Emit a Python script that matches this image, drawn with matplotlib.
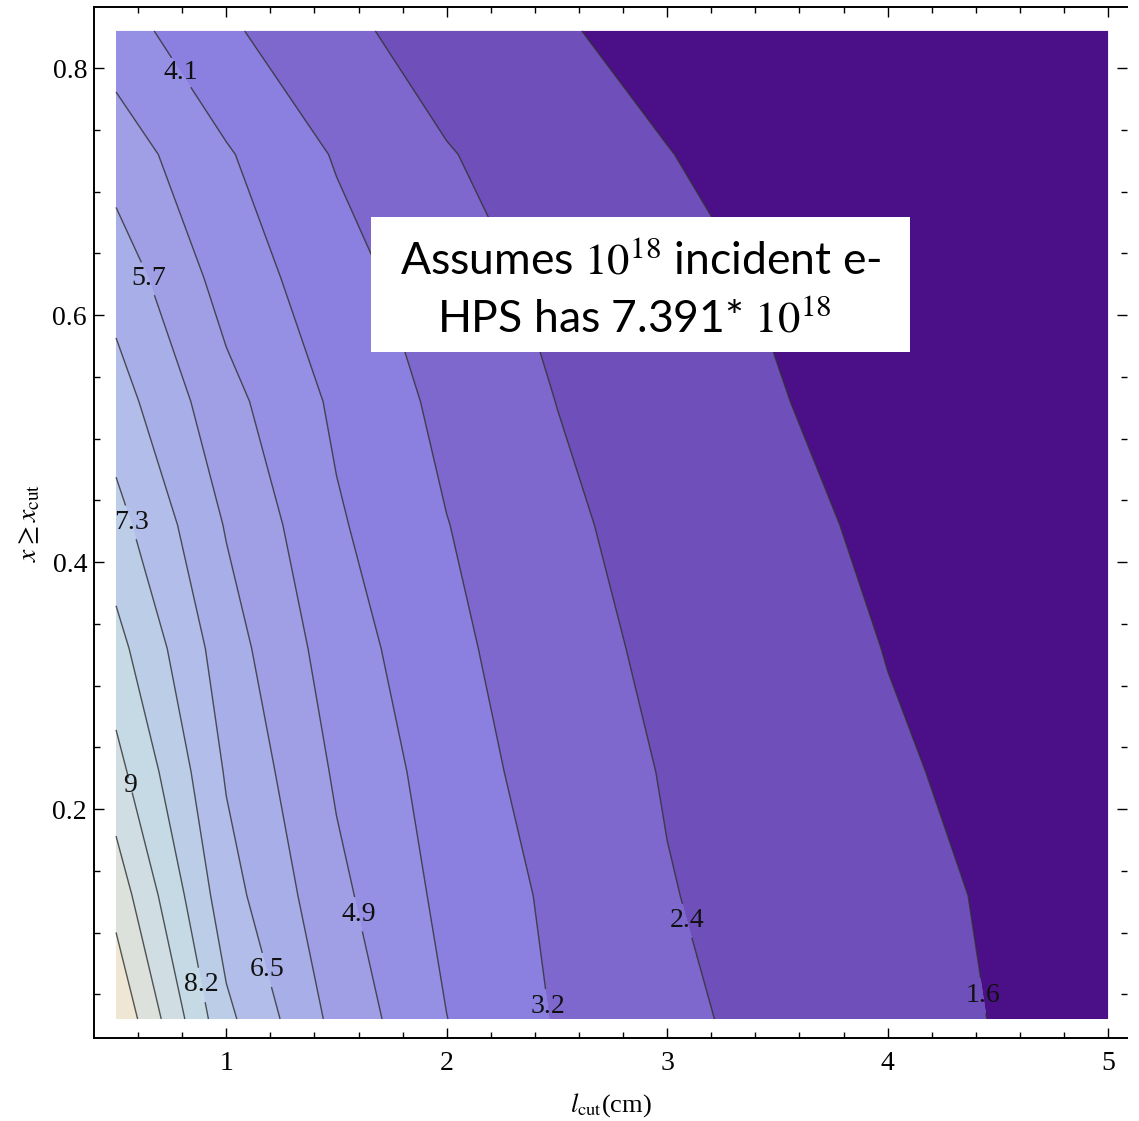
import numpy as np
import matplotlib
matplotlib.use("Agg")
import matplotlib.pyplot as plt
from matplotlib.patches import Rectangle

# ---------------- data ----------------
l_cut = [0.5, 1.0, 1.5, 2.0, 2.5, 3.0, 3.5, 4.0, 4.5, 5.0]          # cm
x_cut = [0.03, 0.13, 0.23, 0.33, 0.43, 0.53, 0.63, 0.73, 0.83]
z_row_003 = [11.37, 7.54, 5.45, 4.07, 3.18, 2.60, 2.18, 1.87, 1.57, 1.35]
z_row_013 = [10.30, 6.85, 5.08, 3.84, 3.075, 2.46, 2.12, 1.83, 1.515, 1.30]
z_row_023 = [9.26, 6.44, 4.77, 3.66, 2.855, 2.37, 2.00, 1.69, 1.43, 1.20]
z_row_033 = [8.44, 6.07, 4.465, 3.465, 2.68, 2.265, 1.92, 1.58, 1.33, 1.12]
z_row_043 = [7.63, 5.64, 4.16, 3.26, 2.60, 2.07, 1.77, 1.47, 1.22, 1.02]
z_row_053 = [6.88, 5.14, 3.91, 3.03, 2.41, 1.985, 1.635, 1.335, 1.10, 0.92]
z_row_063 = [6.18, 4.55, 3.56, 2.78, 2.22, 1.82, 1.52, 1.27, 1.07, 0.90]
z_row_073 = [5.34, 4.14, 3.17, 2.47, 1.99, 1.62, 1.32, 1.10, 0.93, 0.80]
z_row_083 = [4.43, 3.36, 2.64, 2.015, 1.67, 1.36, 1.15, 1.00, 0.88, 0.80]

contour_levels = [1.60, 2.42, 3.24, 4.06, 4.88, 5.70, 6.52, 7.34, 8.16, 8.98, 9.80, 10.62]
labelled_levels = [1.60, 2.42, 3.24, 4.06, 4.88, 5.70, 6.52, 7.34, 8.16, 8.98]
label_texts = ["1.6", "2.4", "3.2", "4.1", "4.9", "5.7", "6.5", "7.3", "8.2", "9"]

x_ticks = [1, 2, 3, 4, 5]
y_ticks = [0.2, 0.4, 0.6, 0.8]
note_line1 = "Assumes $10^{18}$ incident e-"
note_line2 = "HPS has 7.391* $10^{18}$"

# ---------------- styling ----------------
band_colors = ["#4B1087", "#6F4FB9", "#7E68CD", "#8B80E0", "#9690E4", "#A09FE6",
               "#A8AEE8", "#B2BEE9", "#BCCDE8", "#C6DAE6", "#D0DDE2", "#DDE1DC", "#EFE6D3"]
label_spots = [(4.41, 0.048), (3.10, 0.110), (2.46, 0.040), (0.81, 0.798), (1.58, 0.114),
               (0.655, 0.630), (1.19, 0.070), (0.565, 0.432), (0.873, 0.057), (0.556, 0.219)]

plt.rcParams["font.family"] = ["Liberation Serif", "DejaVu Serif"]
plt.rcParams["mathtext.fontset"] = "stix"

W, H = 1139, 1121
fig = plt.figure(figsize=(W / 100, H / 100), dpi=100)
ax = fig.add_axes([94 / W, 1 - 1038 / H, (1127 - 94) / W, (1038 - 7) / H])

X, Y = np.meshgrid(np.array(l_cut), np.array(x_cut))
Z = np.array([z_row_003, z_row_013, z_row_023, z_row_033, z_row_043,
              z_row_053, z_row_063, z_row_073, z_row_083])

fill_bounds = [0.0] + contour_levels + [20.0]
ax.contourf(X, Y, Z, levels=fill_bounds, colors=band_colors, antialiased=True)
ax.contourf(X, Y, Z, levels=fill_bounds, colors=band_colors, antialiased=True)
cs = ax.contour(X, Y, Z, levels=contour_levels, colors="#2e2e2e", linewidths=1.0, alpha=0.8)

fmt = {lv: t for lv, t in zip(labelled_levels, label_texts)}
texts = ax.clabel(cs, levels=labelled_levels, fmt=fmt, fontsize=20, inline=True,
                  inline_spacing=1, manual=label_spots, colors="black")
for t in texts:
    t.set_rotation(0)
    t.set_alpha(1.0)
    t.set_color("#111111")

ax.set_xlim(0.40, 5.086)
ax.set_ylim(0.0146, 0.8494)
ax.set_xticks(x_ticks)
ax.set_yticks(y_ticks)
ax.set_xticks(np.arange(0.6, 5.05, 0.2), minor=True)
ax.set_yticks(np.arange(0.05, 0.85, 0.05), minor=True)
ax.set_yticklabels([f"{v:.1f}" for v in y_ticks])
ax.tick_params(which="both", direction="in", top=True, right=True, labelsize=20, width=1.0)
ax.tick_params(which="major", length=7)
ax.tick_params(which="minor", length=4)
ax.tick_params(axis="x", pad=9)
ax.tick_params(axis="y", pad=5)
ax.spines["right"].set_visible(False)
for s in ["left", "bottom", "top"]:
    ax.spines[s].set_linewidth(1.4)

ax.set_xlabel(r"$l_{\mathrm{cut}}$(cm)", fontsize=19, labelpad=11)
ax.set_ylabel(r"$x \geq x_{\mathrm{cut}}$", fontsize=20, labelpad=7)

# white note box
fig.patches.append(Rectangle((371 / W, 1 - 352 / H), (910 - 371) / W, (352 - 217) / H,
                             transform=fig.transFigure, facecolor="white", edgecolor="none", zorder=5))
fig.text(641 / W, 1 - 274 / H, note_line1, ha="center", va="baseline", fontsize=32,
         family=["Lato", "DejaVu Sans"], zorder=6)
fig.text(634 / W, 1 - 331 / H, note_line2, ha="center", va="baseline", fontsize=32,
         family=["Lato", "DejaVu Sans"], zorder=6)

fig.savefig("out.png", dpi=100)
